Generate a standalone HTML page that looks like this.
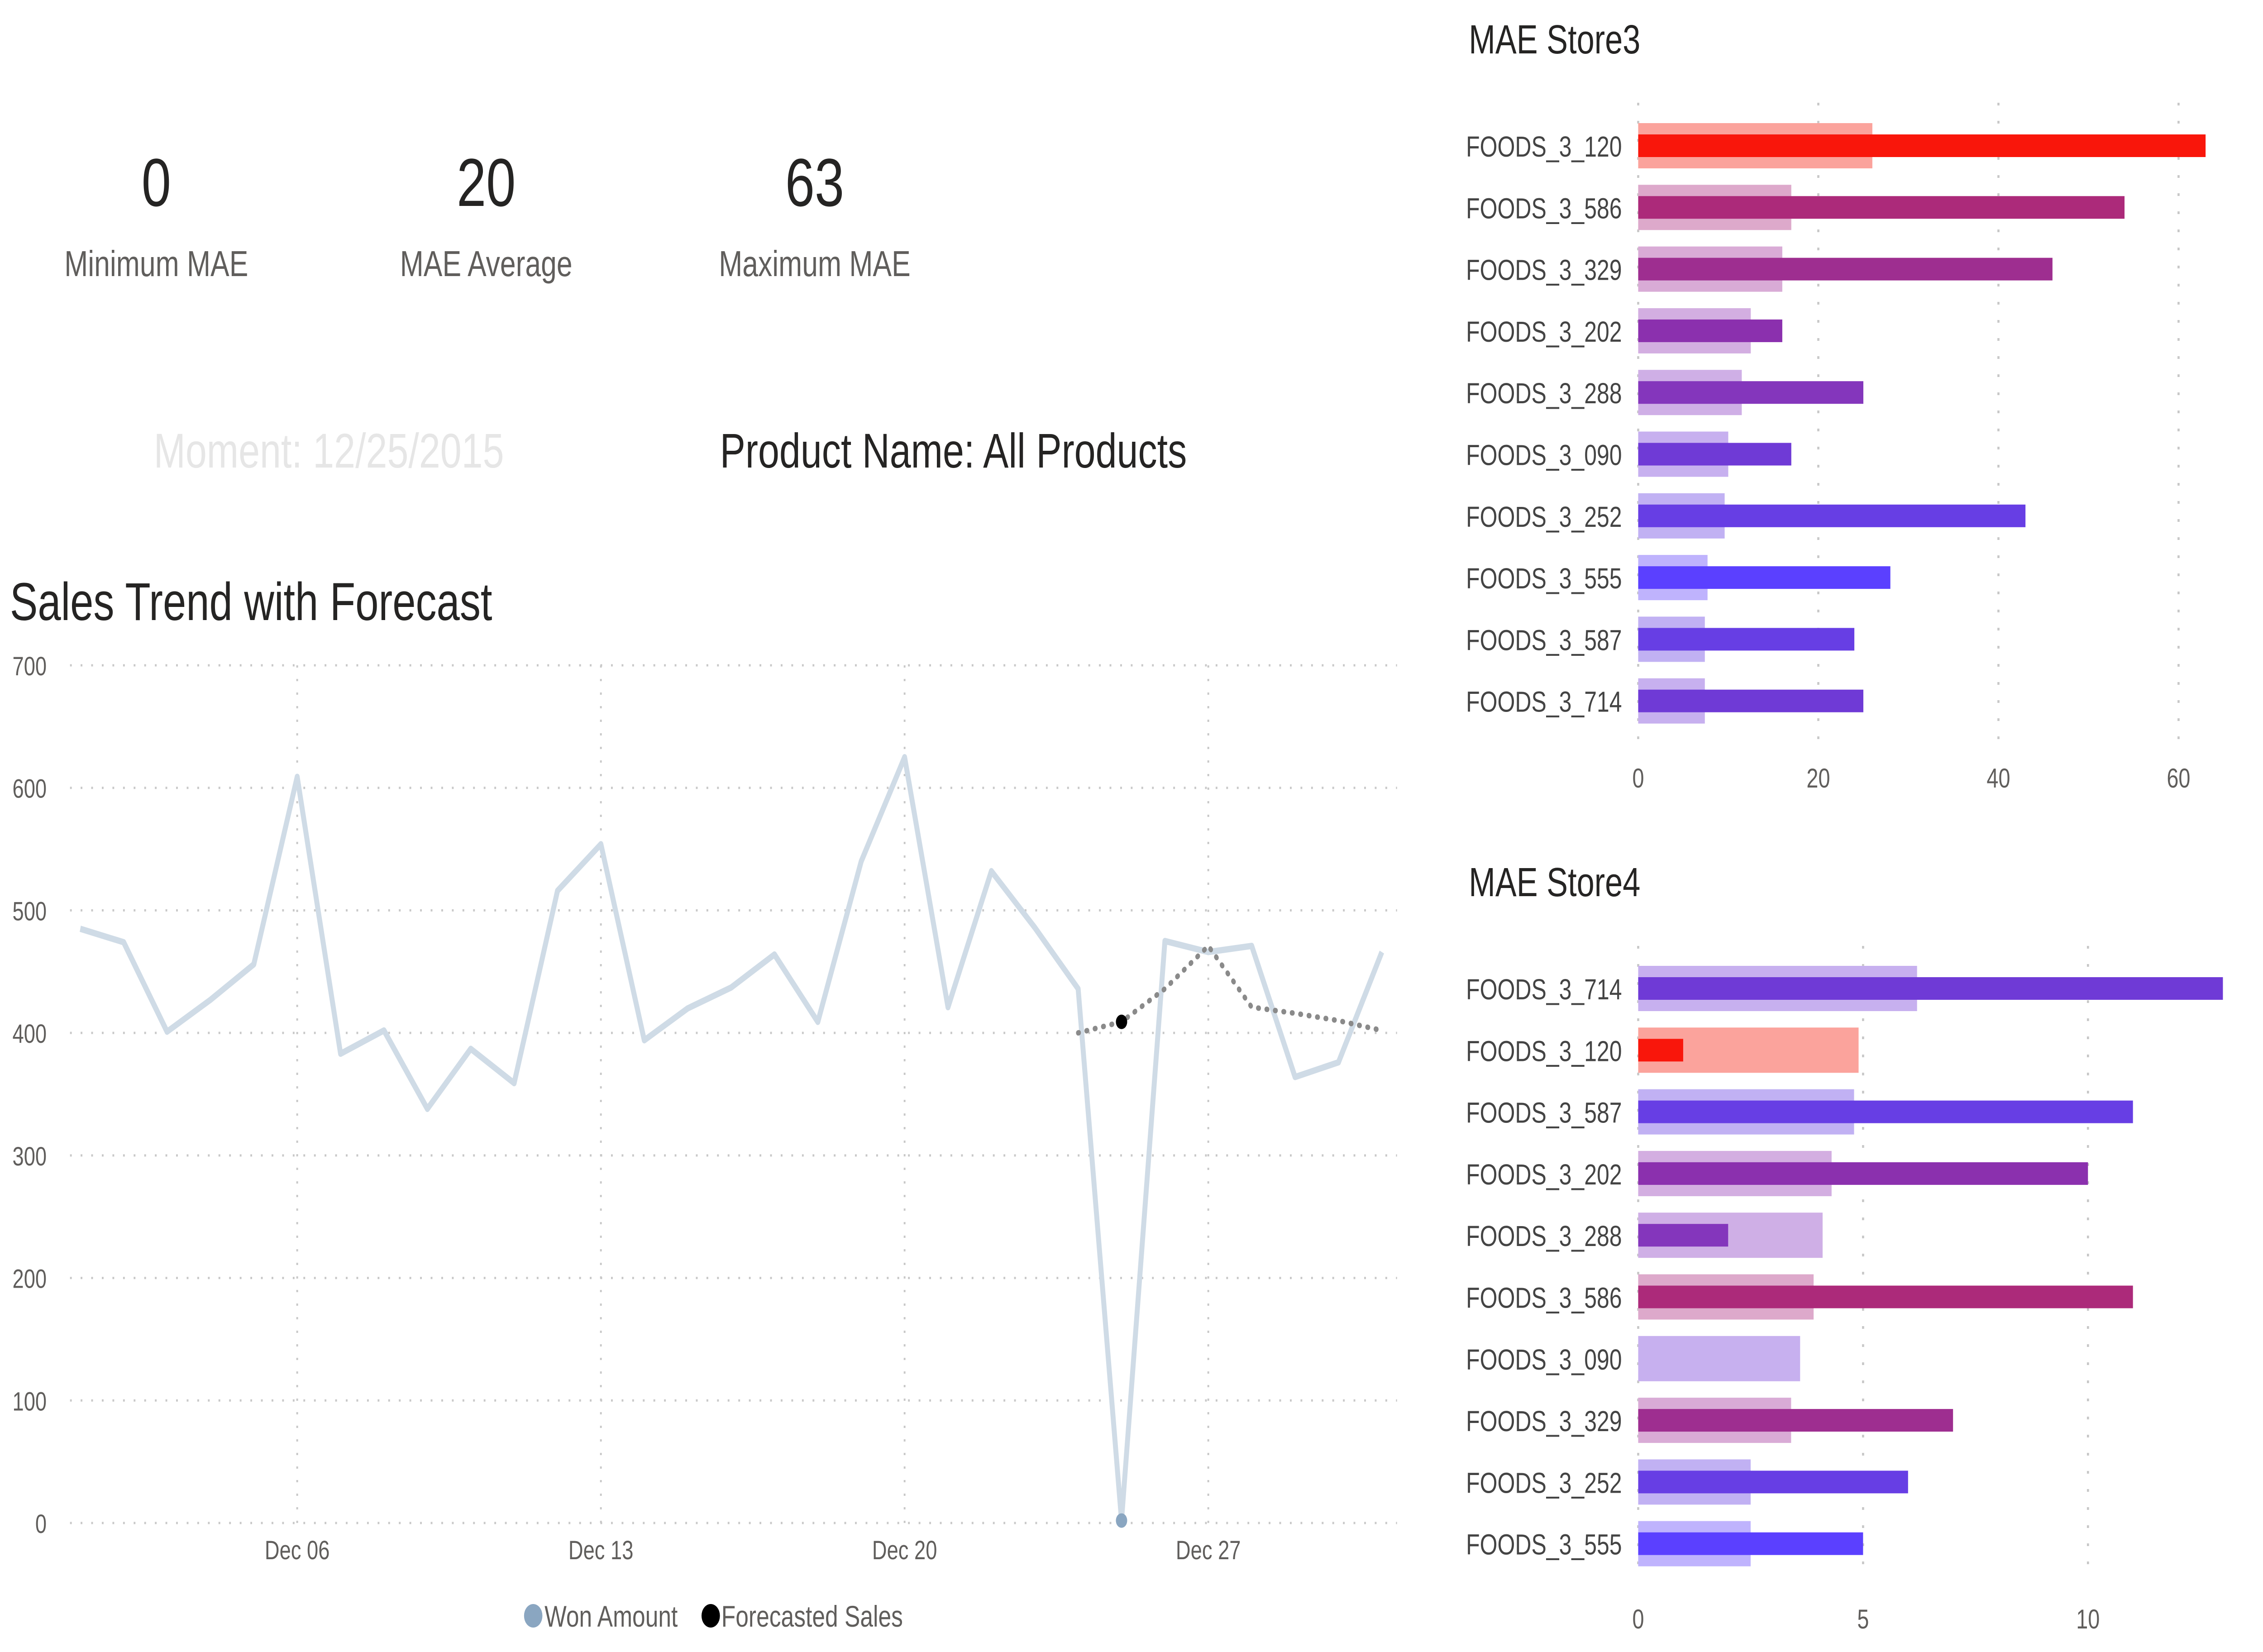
<!DOCTYPE html>
<html><head><meta charset="utf-8"><style>
html,body{margin:0;padding:0;background:#fff;width:100%;height:100%;overflow:hidden}
svg{display:block;width:100vw;height:100vh;font-family:"Liberation Sans",sans-serif}
</style></head><body>
<svg id="s" viewBox="0 0 6400 3650" preserveAspectRatio="none">
<g>
<text x="442" y="455" font-size="150" text-anchor="middle" fill="#252423">0</text>
<text x="442" y="610" font-size="80" text-anchor="middle" fill="#605e5c">Minimum MAE</text></g>
<g>
<text x="1375" y="455" font-size="150" text-anchor="middle" fill="#252423">20</text>
<text x="1375" y="610" font-size="80" text-anchor="middle" fill="#605e5c">MAE Average</text></g>
<g>
<text x="2304" y="455" font-size="150" text-anchor="middle" fill="#252423">63</text>
<text x="2304" y="610" font-size="80" text-anchor="middle" fill="#605e5c">Maximum MAE</text></g>
<text x="930" y="1033" font-size="108" text-anchor="middle" fill="#e6e6e6">Moment: 12/25/2015</text>
<text x="2036" y="1033" font-size="108" fill="#252423">Product Name: All Products</text>
<text x="28" y="1370" font-size="118" fill="#252423">Sales Trend with Forecast</text>
<text x="4154" y="118" font-size="90" fill="#252423">MAE Store3</text>
<text x="4154" y="1980" font-size="90" fill="#252423">MAE Store4</text>
<g id="line"></g>
<g id="b3"></g>
<g id="b4"></g>
<g>
<circle cx="1508" cy="3570" r="26" fill="#8aa6c1"/>
<text x="1540" y="3594" font-size="66" fill="#605e5c">Won Amount</text>
<circle cx="2010" cy="3570" r="26" fill="#000"/>
<text x="2040" y="3594" font-size="66" fill="#605e5c">Forecasted Sales</text>
</g>
</svg>
<script>
const days=[1,2,3,4,5,6,7,8,9,10,11,12,13,14,15,16,17,18,19,20,21,22,23,24,25,26,27,28,29,30,31];
const sales=[485,474,401,427,456,609,383,402,338,387,359,516,554,394,420,437,464,409,540,625,421,532,486,436,2,475,466,471,364,376,466];
const fcDays=[24,25,26,27,28,29,30,31];
const fcVals=[400,409,436,471,421,416,410,402];
const yTicks=[0,100,200,300,400,500,600,700];
const xTickDays=[6,13,20,27];
const xTickLabels=["Dec 06","Dec 13","Dec 20","Dec 27"];
const s3cats=["FOODS_3_120","FOODS_3_586","FOODS_3_329","FOODS_3_202","FOODS_3_288","FOODS_3_090","FOODS_3_252","FOODS_3_555","FOODS_3_587","FOODS_3_714"];
const s3vals=[63,54,46,16,25,17,43,28,24,25];
const s3bg=[26,17,16,12.5,11.5,10,9.6,7.7,7.4,7.4];
const s3ticks=[0,20,40,60];
const s4cats=["FOODS_3_714","FOODS_3_120","FOODS_3_587","FOODS_3_202","FOODS_3_288","FOODS_3_586","FOODS_3_090","FOODS_3_329","FOODS_3_252","FOODS_3_555"];
const s4vals=[13,1,11,10,2,11,0,7,6,5];
const s4bg=[6.2,4.9,4.8,4.3,4.1,3.9,3.6,3.4,2.5,2.5];
const s4ticks=[0,5,10];
const colors={"FOODS_3_120":["#f9160b","#fba39c"],"FOODS_3_586":["#ac2a7a","#dda9cb"],"FOODS_3_329":["#9e2e90","#d9abd6"],"FOODS_3_202":["#8b30ae","#d3aee1"],"FOODS_3_288":["#8436bc","#cfafe6"],"FOODS_3_090":["#6f3ad6","#c7b0ef"],"FOODS_3_252":["#673ee4","#c1b1f3"],"FOODS_3_555":["#5b40ff","#bfb3fd"],"FOODS_3_587":["#673ee4","#c1b1f3"],"FOODS_3_714":["#6f3ad6","#c7b0ef"]};
const NS="http://www.w3.org/2000/svg";
function mk(p,t,a){const e=document.createElementNS(NS,t);for(const k in a)e.setAttribute(k,a[k]);p.appendChild(e);return e;}
const L=document.getElementById('line');
const xs=d=>227+(d-1)*122.7, ys=v=>3365-v*(3365-1470)/700;
yTicks.forEach(t=>{const g=mk(L,'line',{x1:198,x2:3951,y1:ys(t),y2:ys(t),stroke:'#c8c8c8','stroke-width':5,'stroke-dasharray':'5 25'});

const tx=mk(L,'text',{x:132,y:ys(t)+22,'font-size':58,'text-anchor':'end',fill:'#605e5c'});tx.textContent=t;
});
xTickDays.forEach((d,i)=>{const g=mk(L,'line',{x1:xs(d),x2:xs(d),y1:1470,y2:3365,stroke:'#c8c8c8','stroke-width':5,'stroke-dasharray':'5 25'});

const tx=mk(L,'text',{x:xs(d),y:3445,'font-size':58,'text-anchor':'middle',fill:'#605e5c'});tx.textContent=xTickLabels[i];
});
const p1=mk(L,'polyline',{points:days.map((d,i)=>xs(d)+','+ys(sales[i])).join(' '),fill:'none',stroke:'#cfdbe6','stroke-width':14,'stroke-linejoin':'round'});

const p2=mk(L,'polyline',{points:fcDays.map((d,i)=>xs(d)+','+ys(fcVals[i])).join(' '),fill:'none',stroke:'#8a8a8a','stroke-width':12,'stroke-dasharray':'2 22','stroke-linecap':'round'});

const c1=mk(L,'circle',{cx:xs(25),cy:ys(sales[24]),r:16,fill:'#8aa6c1'});

const c2=mk(L,'circle',{cx:xs(25),cy:ys(fcVals[1]),r:16,fill:'#000'});

function bars(id,cats,vals,bg,ticks,unit,y0,gTop,gBot,tickY){
const G=document.getElementById(id);const xb=v=>4633+v*unit;
ticks.forEach(t=>{const g=mk(G,'line',{x1:xb(t),x2:xb(t),y1:gTop,y2:gBot,stroke:'#c8c8c8','stroke-width':6,'stroke-dasharray':'6 34'});

const tx=mk(G,'text',{x:xb(t),y:tickY,'font-size':60,'text-anchor':'middle',fill:'#605e5c'});tx.textContent=t;
});
cats.forEach((c,i)=>{const cy=y0+i*136.3;const col=colors[c];
const tx=mk(G,'text',{x:4587,y:cy+24,'font-size':64,'text-anchor':'end',fill:'#444'});tx.textContent=c;

const r1=mk(G,'rect',{x:4633,y:cy-50,width:bg[i]*unit,height:100,fill:col[1]});

const r2=mk(G,'rect',{x:4633,y:cy-25,width:vals[i]*unit,height:50,fill:col[0]});
});}
bars('b3',s3cats,s3vals,s3bg,s3ticks,25.47,322,227,1650,1740);
bars('b4',s4cats,s4vals,s4bg,s4ticks,127.2,2184,2090,3480,3598);
</script>
</body></html>
